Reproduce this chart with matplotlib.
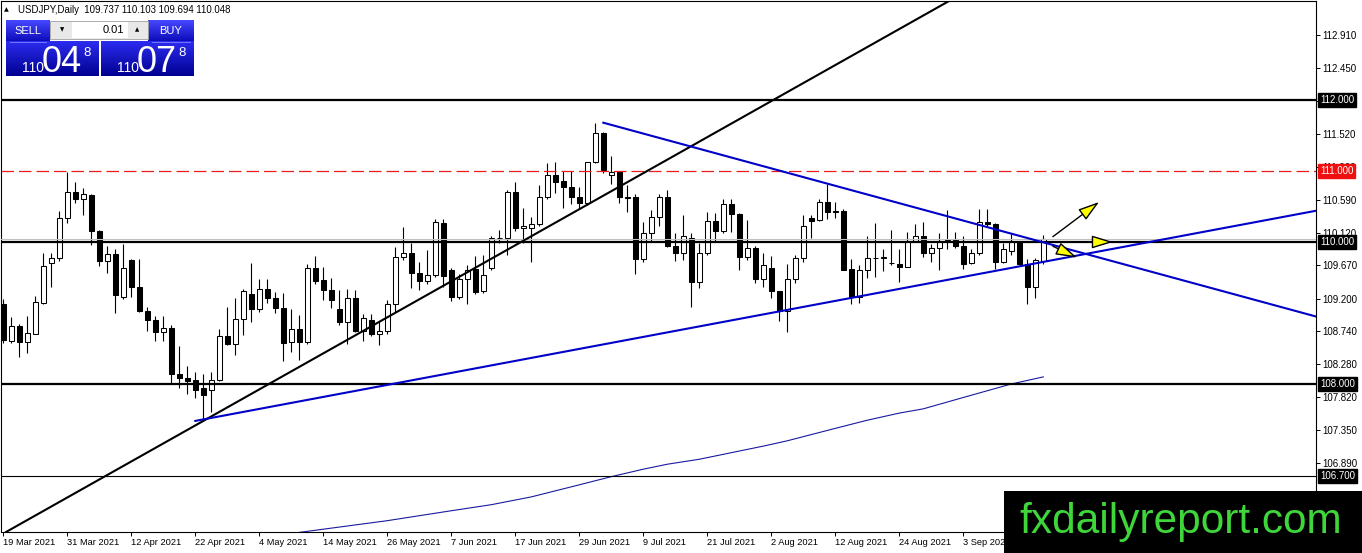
import numpy as np
import pandas as pd
import matplotlib
matplotlib.use("Agg")
import matplotlib.pyplot as plt
from matplotlib.patches import Rectangle
from matplotlib.colors import LinearSegmentedColormap

plt.rcParams['font.family'] = ['Liberation Sans', 'DejaVu Sans']

# USDJPY daily candles, 19 Mar 2021 .. 17 Sep 2021
opens = [
    109.13, 108.60, 108.82, 108.59, 108.71, 109.14, 109.71, 109.78, 110.34, 110.71,
    110.60, 110.66, 110.16, 109.73, 109.83, 109.23, 109.74, 109.37, 109.03, 108.90,
    108.73, 108.79, 108.14, 108.08, 108.05, 107.94, 107.91, 108.05, 108.67, 108.57,
    108.92, 109.27, 109.05, 109.34, 109.21, 109.07, 108.59, 108.77, 108.59, 109.63,
    109.46, 109.32, 109.06, 108.87, 109.21, 108.74, 108.90, 108.71, 108.75, 109.13,
    109.79, 109.85, 109.57, 109.45, 109.54, 110.27, 109.60, 109.22, 109.48, 109.62,
    109.31, 109.64, 110.05, 110.05, 110.70, 110.19, 110.20, 110.26, 110.63, 110.94,
    110.86, 110.78, 110.63, 110.55, 111.13, 111.54, 110.95, 111.00, 110.63, 110.63,
    109.76, 110.12, 110.35, 110.64, 109.95, 109.84, 110.05, 109.43, 109.84, 110.29,
    110.15, 110.54, 110.40, 109.79, 109.92, 109.48, 109.64, 109.31, 109.03, 109.48,
    109.78, 110.34, 110.31, 110.56, 110.43, 110.43, 109.62, 109.23, 109.60, 109.78,
    109.78, 109.70, 109.69, 109.65, 110.01, 110.09, 109.84, 109.92, 110.02, 110.03,
    109.94, 109.70, 109.84, 110.28, 110.26, 109.72, 109.87, 110.01, 109.69, 109.36,
    109.737]
highs = [
    109.20, 108.95, 108.84, 108.96, 109.24, 109.85, 109.85, 110.43, 110.98, 110.85,
    110.76, 110.67, 110.17, 109.95, 109.90, 109.97, 109.76, 109.76, 109.09, 108.96,
    108.96, 108.83, 108.53, 108.26, 108.17, 108.14, 108.17, 108.78, 109.08, 109.21,
    109.34, 109.70, 109.48, 109.48, 109.29, 109.28, 109.06, 108.97, 109.69, 109.80,
    109.65, 109.49, 109.32, 109.34, 109.32, 108.99, 108.99, 108.89, 109.18, 109.93,
    110.21, 109.99, 109.72, 109.89, 110.33, 110.33, 109.64, 109.55, 109.67, 109.80,
    109.82, 110.09, 110.17, 110.73, 110.85, 110.48, 110.35, 110.80, 111.11, 111.13,
    111.00, 111.00, 110.78, 111.13, 111.68, 111.55, 111.21, 111.00, 110.80, 110.68,
    110.28, 110.45, 110.68, 110.73, 110.12, 110.38, 110.13, 109.98, 110.42, 110.41,
    110.61, 110.61, 110.41, 110.31, 109.94, 109.84, 109.80, 109.31, 109.69, 109.82,
    110.38, 110.38, 110.61, 110.81, 110.56, 110.46, 109.76, 109.67, 110.09, 110.27,
    109.90, 110.17, 109.90, 110.14, 110.25, 110.28, 109.97, 110.12, 110.45, 110.14,
    110.09, 109.90, 110.47, 110.47, 110.27, 109.98, 110.11, 110.02, 109.76, 109.78,
    110.103]
lows = [
    108.58, 108.58, 108.38, 108.43, 108.70, 109.12, 109.36, 109.73, 110.27, 110.55,
    110.38, 109.96, 109.66, 109.57, 109.00, 109.19, 109.23, 109.01, 108.74, 108.60,
    108.60, 108.00, 107.95, 107.86, 107.80, 107.48, 107.61, 108.04, 108.55, 108.41,
    108.69, 108.88, 109.02, 109.14, 109.00, 108.33, 108.45, 108.34, 108.57, 109.41,
    109.18, 109.07, 108.83, 108.56, 108.73, 108.60, 108.68, 108.55, 108.71, 109.02,
    109.75, 109.35, 109.32, 109.41, 109.50, 109.37, 109.17, 109.20, 109.13, 109.27,
    109.28, 109.60, 109.98, 109.81, 110.15, 109.98, 109.72, 110.23, 110.60, 110.69,
    110.48, 110.54, 110.46, 110.52, 111.11, 110.97, 110.81, 110.55, 110.42, 109.55,
    109.72, 110.02, 110.23, 109.93, 109.73, 109.75, 109.08, 109.35, 109.81, 110.02,
    110.12, 110.14, 109.61, 109.75, 109.42, 109.37, 109.21, 108.89, 108.73, 109.42,
    109.72, 110.05, 110.29, 110.33, 110.34, 109.60, 109.12, 109.14, 109.49, 109.50,
    109.59, 109.67, 109.43, 109.65, 110.00, 109.79, 109.72, 109.60, 109.90, 109.92,
    109.62, 109.69, 109.81, 110.21, 109.62, 109.70, 109.82, 109.68, 109.12, 109.21,
    109.694]
closes = [
    108.62, 108.82, 108.59, 108.72, 109.15, 109.66, 109.78, 110.34, 110.71, 110.60,
    110.67, 110.15, 109.73, 109.83, 109.25, 109.64, 109.36, 109.03, 108.90, 108.73,
    108.79, 108.14, 108.08, 108.04, 107.92, 107.84, 108.05, 108.67, 108.57, 108.92,
    109.31, 109.05, 109.34, 109.21, 109.07, 108.58, 108.77, 108.59, 109.63, 109.45,
    109.32, 109.18, 108.87, 109.21, 108.74, 108.93, 108.71, 108.75, 109.13, 109.79,
    109.85, 109.56, 109.45, 109.54, 110.28, 109.52, 109.22, 109.48, 109.60, 109.29,
    109.54, 110.05, 110.05, 110.70, 110.19, 110.22, 110.26, 110.63, 110.94, 110.85,
    110.78, 110.63, 110.55, 111.13, 111.54, 111.01, 110.99, 110.63, 110.62, 109.76,
    110.12, 110.35, 110.64, 109.94, 109.84, 110.08, 109.43, 109.84, 110.30, 110.15,
    110.54, 110.39, 109.79, 109.92, 109.48, 109.68, 109.31, 109.03, 109.48, 109.78,
    110.23, 110.30, 110.56, 110.42, 110.42, 109.61, 109.23, 109.60, 109.78, 109.77,
    109.78, 109.70, 109.65, 110.01, 110.09, 109.84, 109.92, 110.01, 110.02, 109.94,
    109.69, 109.84, 110.28, 110.25, 109.72, 109.90, 110.01, 109.69, 109.36, 109.74,
    110.048]

start_date = '2021-03-19'

# moving average (thin blue), sampled at bar index
ma_bars = [37, 40, 48, 56, 61, 66, 72, 76, 80, 83, 87, 95, 98, 104, 108, 112, 115,
           120, 126, 130]
ma_vals = [105.91, 105.955, 106.075, 106.215, 106.30, 106.41, 106.58, 106.695, 106.80,
           106.87, 106.94, 107.125, 107.20, 107.375, 107.49, 107.59, 107.65, 107.81,
           108.0, 108.10]

# drawn objects
hlines_thick = [112.0, 110.0, 108.0]
hline_thin = 106.7
hline_red = 111.0
bid = 110.048
black_trend = [(25, 107.48), (118, 113.38)]
blue_lower = [(24, 107.48), (164.1, 110.44)]
blue_upper = [(75, 111.68), (164.1, 108.95)]
# arrows: (start bar, start price, tip bar, tip price)
arrows = [(131.2, 110.075, 136.97, 110.563),
          (131.2, 110.0, 138.7, 110.0),
          (131.2, 109.94, 134.2, 109.78)]

ytick_vals = [112.910, 112.450, 111.990, 111.520, 111.060, 110.590, 110.120,
              109.670, 109.200, 108.740, 108.280, 107.820, 107.350, 106.890]
box_labels = [(112.0, 'black'), (111.0, '#f01010'), (110.0, 'black'),
              (108.0, 'black'), (106.7, 'black')]

W, H = 1362, 553
fig = plt.figure(figsize=(W / 100, H / 100), dpi=100)
ax = fig.add_axes([1 / W, (H - 532) / H, 1315 / W, 531 / H])

o = np.array(opens)
h = np.array(highs)
l = np.array(lows)
c = np.array(closes)
idx = np.arange(len(o))
up = c >= o

ax.vlines(idx, l, h, color='black', lw=0.8, zorder=2)
ax.bar(idx, np.maximum(np.abs(c - o), 0.004), bottom=np.minimum(o, c), width=0.62,
       color=np.where(up, 'white', 'black'), edgecolor='black', lw=0.75, zorder=3)

ax.plot(ma_bars, ma_vals, color='#1a1aa0', lw=0.8, zorder=4)

for y in hlines_thick:
    ax.axhline(y, color='black', lw=1.6, zorder=5)
ax.axhline(hline_thin, color='black', lw=0.8, zorder=5)
ax.axhline(bid, color='#c0c0c0', lw=0.8, zorder=4)
ax.axhline(hline_red, color='#ee1c1c', lw=0.9, dashes=(10, 4), zorder=5)

ax.axline(black_trend[0], black_trend[1], color='black', lw=1.5, zorder=6)
ax.plot(*zip(*blue_lower), color='#0000c8', lw=1.5, zorder=6)
ax.plot(*zip(*blue_upper), color='#0000c8', lw=1.5, zorder=6)

for x0, y0, x1, y1 in arrows:
    ax.annotate('', xy=(x1, y1), xytext=(x0, y0), zorder=7,
                arrowprops=dict(arrowstyle='-|>,head_length=0.65,head_width=0.2',
                                mutation_scale=20, fc='#ffff00', ec='black', lw=1.0,
                                shrinkA=0, shrinkB=0))

ax.set_xlim(-0.29, 164.09)
ax.set_ylim(105.9155, 113.394)

dates = pd.bdate_range(start_date, periods=len(o))
xt = list(range(0, len(o), 8))
ax.set_xticks(xt)
ax.set_xticklabels([f"{dates[i].day} {dates[i]:%b %Y}" for i in xt], ha='left')
ax.tick_params(axis='x', length=3, width=0.7, pad=1.5, labelsize=6.7)

ax.yaxis.tick_right()
ax.set_yticks(ytick_vals)
ax.set_yticklabels([f"{v:.3f}" for v in ytick_vals])
ax.tick_params(axis='y', length=3, width=0.7, pad=1.5, labelsize=7)
for s in ax.spines.values():
    s.set_linewidth(0.8)

for val, col in box_labels:
    ax.annotate(f"{val:.3f}", xy=(1, val), xycoords=('axes fraction', 'data'),
                xytext=(4, 0), textcoords='offset pixels', va='center', ha='left',
                fontsize=7, color='white', annotation_clip=False,
                bbox=dict(boxstyle='square,pad=0.2', fc=col, ec=col))

# overlay in pixel units for the trading panel and the watermark
ov = fig.add_axes([0, 0, 1, 1])
ov.axis('off')
ov.set_zorder(10)

blue1 = LinearSegmentedColormap.from_list('b1', ['#4848ff', '#0a0ab8'])
blue2 = LinearSegmentedColormap.from_list('b2', ['#2c2cf0', '#000090'])
grad = np.linspace(0, 1, 64).reshape(-1, 1)
for x0, x1, y0, y1, cm in [(6, 49.5, 20.5, 41.7, blue1), (148, 193.3, 20.5, 41.7, blue1),
                           (6, 98.3, 41.7, 76, blue2), (100.7, 193.3, 41.7, 76, blue2)]:
    ov.imshow(grad, extent=(x0, x1, y1, y0), origin='upper', cmap=cm, aspect='auto')
ov.plot([10, 46], [41.5, 41.5], color='#8080ff', lw=0.6)
ov.plot([152, 190], [41.5, 41.5], color='#8080ff', lw=0.6)

ov.add_patch(Rectangle((50, 20.5), 97.5, 18.5, fc='#e8e8e8', ec='#a0a0a0', lw=0.6))
ov.add_patch(Rectangle((72, 21.5), 56, 16.5, fc='white', ec='none'))
ov.text(62, 30, '▼', fontsize=4, family='DejaVu Sans', ha='center', va='center')
ov.text(137.5, 30, '▲', fontsize=4, family='DejaVu Sans', ha='center', va='center')
ov.text(124, 30, '0.01', fontsize=8, ha='right', va='center')
ov.text(27.5, 31, 'SELL', fontsize=8, color='white', ha='center', va='center')
ov.text(170.5, 31, 'BUY', fontsize=8, color='white', ha='center', va='center')

for bx, big in [(0, '04'), (95, '07')]:
    ov.text(22 + bx, 72, '110', fontsize=10, color='white', va='baseline')
    ov.text(42 + bx, 72, big, fontsize=26, color='white', va='baseline')
    ov.text(83 + bx, 56, '8', fontsize=9.5, color='white', va='baseline')

ov.text(4, 10, '▲', fontsize=4.5, family='DejaVu Sans', va='center')
ov.text(18, 10, 'USDJPY,Daily  109.737 110.103 109.694 110.048', fontsize=6.9, va='center')

ov.add_patch(Rectangle((1004, 491), 358, 62, fc='black', ec='none'))
ov.text(1019, 532.5, 'fxdailyreport.com', fontsize=30.5, color='#3ed63a', va='baseline')

ov.set_xlim(0, W)
ov.set_ylim(H, 0)

fig.savefig('out.png', dpi=100, facecolor='white')
